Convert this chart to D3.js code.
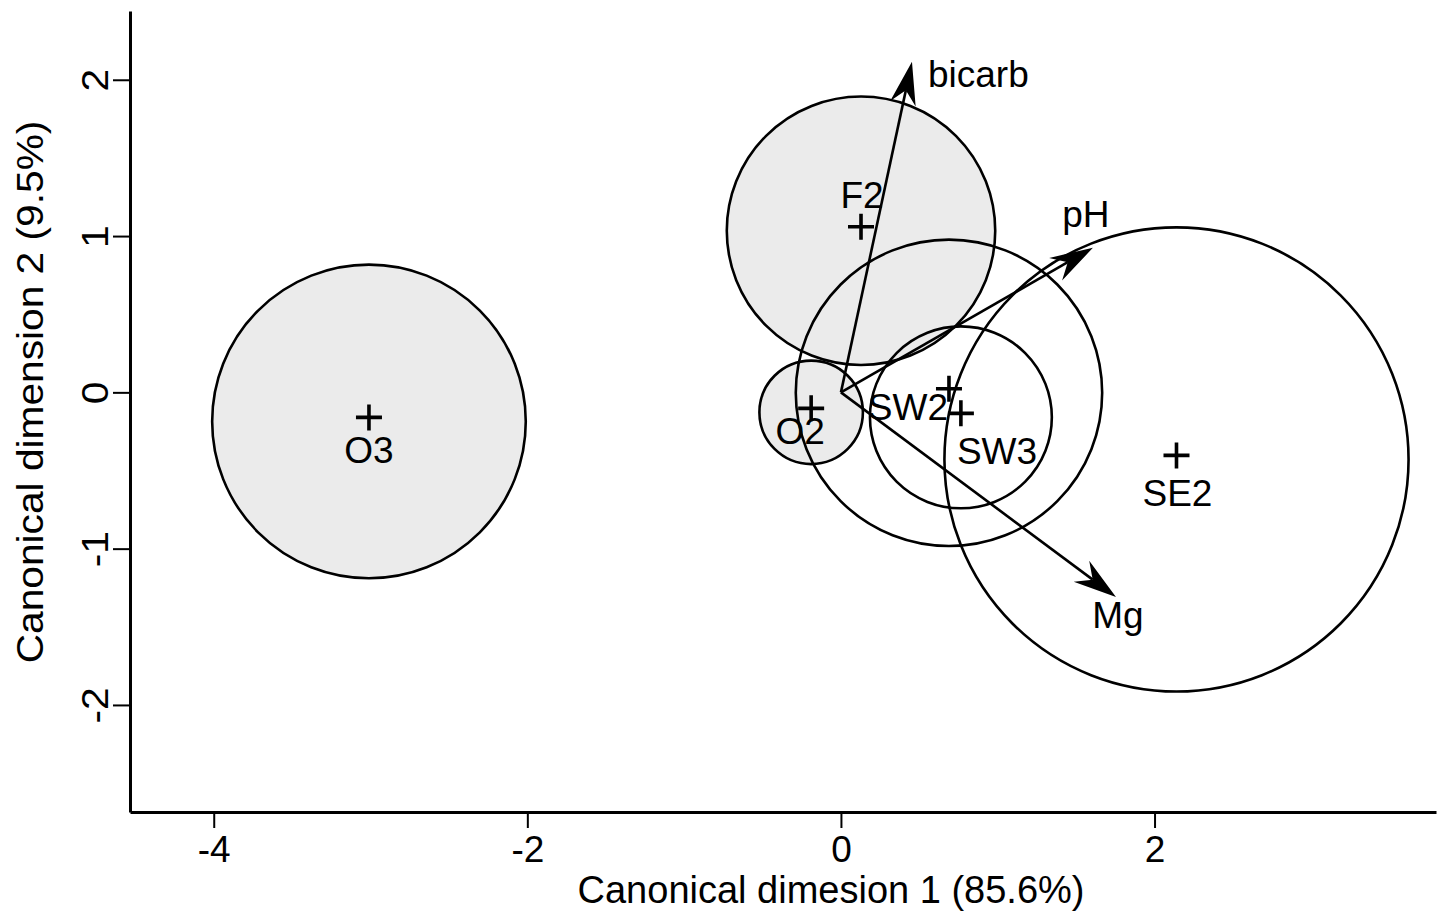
<!DOCTYPE html>
<html>
<head>
<meta charset="utf-8">
<script src="https://cdn.jsdelivr.net/npm/d3@7/dist/d3.min.js"></script>
<style>
  body { margin: 0; background: #fff; }
  text { font-family: "Liberation Sans", Arial, sans-serif; fill: #000; }
</style>
</head>
<body>
<div id="chart"></div>
<script>
// --- Data ---
// group centroids (canonical scores) and circle radii
const groups  = ['O3', 'F2', 'O2', 'SW2', 'SW3', 'SE2'];
const centerX = [-3.01, 0.128, -0.19, 0.689, 0.765, 2.14];
const centerY = [-0.186, 1.034, -0.128, -0.003, -0.16, -0.429];
const radius  = [1.0, 0.856, 0.33, 0.977, 0.58, 1.48];
const shaded  = [true, true, true, false, false, false];

// structure vectors
const vars = ['bicarb', 'pH', 'Mg'];
const vecX = [0.453, 1.607, 1.754];
const vecY = [2.115, 0.925, -1.309];

const xTicks = [-4, -2, 0, 2];
const yTicks = [-2, -1, 0, 1, 2];

// --- Layout ---
const width = 1441, height = 915;
const fontSize = 37;
const vStretch = 1.1; // vertical text in the original reads a bit longer

// label placement around each centroid (px)
const groupLabel = {
  O3:  {anchor: 'middle', dx: 0,   dy: 42},
  F2:  {anchor: 'middle', dx: 1,   dy: -23},
  O2:  {anchor: 'middle', dx: -11, dy: 32},
  SW2: {anchor: 'end',    dx: -1,  dy: 27},
  SW3: {anchor: 'start',  dx: -4,  dy: 47},
  SE2: {anchor: 'middle', dx: 1,   dy: 47}
};
const varLabel = {
  bicarb: {anchor: 'start',  dx: 16, dy: 25},
  pH:     {anchor: 'middle', dx: -7, dy: -21},
  Mg:     {anchor: 'middle', dx: 2,  dy: 31}
};

const svg = d3.select('#chart').append('svg')
  .attr('width', width)
  .attr('height', height);

const x = d3.scaleLinear().domain([-4.534, 3.795]).range([130, 1436]);
const y = d3.scaleLinear().domain([-2.685, 2.44]).range([812, 11]);
const px = v => x(v) - x(0);

const data = groups.map((g, i) => ({
  name: g, cx: centerX[i], cy: centerY[i], r: radius[i], shaded: shaded[i]
}));
const vectors = vars.map((v, i) => ({name: v, x: vecX[i], y: vecY[i]}));

// --- Circles (shaded ones first) ---
const plot = svg.append('g');
plot.selectAll('.grp-circle')
  .data(data.filter(d => d.shaded).concat(data.filter(d => !d.shaded)))
  .join('circle')
  .attr('class', 'grp-circle')
  .attr('cx', d => x(d.cx))
  .attr('cy', d => y(d.cy))
  .attr('r', d => px(d.r))
  .attr('fill', d => d.shaded ? '#ebebeb' : 'none')
  .attr('stroke', '#000')
  .attr('stroke-width', 2.6);

// --- Vectors ---
const headLen = 43, headW = 13, notch = 29;
vectors.forEach(v => {
  const x0 = x(0), y0 = y(0), x1 = x(v.x), y1 = y(v.y);
  const a = Math.atan2(y1 - y0, x1 - x0);
  const cos = Math.cos(a), sin = Math.sin(a);
  const pt = (back, side) => [x1 - back * cos - side * sin, y1 - back * sin + side * cos];
  plot.append('line')
    .attr('x1', x0).attr('y1', y0)
    .attr('x2', pt(notch, 0)[0]).attr('y2', pt(notch, 0)[1])
    .attr('stroke', '#000')
    .attr('stroke-width', 2.6);
  plot.append('path')
    .attr('d', 'M' + [[x1, y1], pt(headLen, headW), pt(notch, 0), pt(headLen, -headW)].join('L') + 'Z')
    .attr('fill', '#000');
  const L = varLabel[v.name];
  plot.append('text')
    .attr('x', x1 + L.dx)
    .attr('y', y1 + L.dy)
    .attr('text-anchor', L.anchor)
    .attr('font-size', fontSize)
    .text(v.name);
});

// --- Centroid markers and labels ---
const cross = 13;
data.forEach(d => {
  const cx = x(d.cx), cy = y(d.cy) - 4;
  plot.append('path')
    .attr('d', `M${cx - cross},${cy}H${cx + cross}M${cx},${cy - cross}V${cy + cross}`)
    .attr('stroke', '#000')
    .attr('stroke-width', 3.6)
    .attr('fill', 'none');
  const L = groupLabel[d.name];
  plot.append('text')
    .attr('x', x(d.cx) + L.dx)
    .attr('y', y(d.cy) + L.dy)
    .attr('text-anchor', L.anchor)
    .attr('font-size', fontSize)
    .text(d.name);
});

// --- Axes ---
const xAxis = svg.append('g')
  .attr('transform', 'translate(0,812)')
  .call(d3.axisBottom(x).tickValues(xTicks).tickSize(16).tickPadding(8).tickSizeOuter(0).tickFormat(d3.format('d')));
const yAxis = svg.append('g')
  .attr('transform', 'translate(130,0)')
  .call(d3.axisLeft(y).tickValues(yTicks).tickSize(17).tickSizeOuter(0).tickFormat(d3.format('d')));

[xAxis, yAxis].forEach(ax => {
  ax.select('.domain').attr('stroke', '#000').attr('stroke-width', 3);
  ax.selectAll('.tick line').attr('stroke', '#000').attr('stroke-width', 2);
  ax.selectAll('.tick text')
    .attr('font-size', fontSize)
    .attr('font-family', '"Liberation Sans", Arial, sans-serif')
    .attr('fill', '#000');
});
// plain hyphen for negatives, as in the original
xAxis.selectAll('.tick text').text(d => String(d));
yAxis.selectAll('.tick text')
  .text(d => String(d))
  .attr('transform', `translate(-22,0) rotate(-90) scale(${vStretch},1)`)
  .attr('x', 0)
  .attr('y', 0)
  .attr('dy', 0)
  .attr('text-anchor', 'middle');

svg.append('text')
  .attr('x', 831)
  .attr('y', 903)
  .attr('text-anchor', 'middle')
  .attr('font-size', 38)
  .text('Canonical dimesion 1 (85.6%)');

svg.append('text')
  .attr('transform', `translate(43,392) rotate(-90) scale(${vStretch},1)`)
  .attr('text-anchor', 'middle')
  .attr('font-size', fontSize)
  .text('Canonical dimension 2 (9.5%)');
</script>
</body>
</html>
